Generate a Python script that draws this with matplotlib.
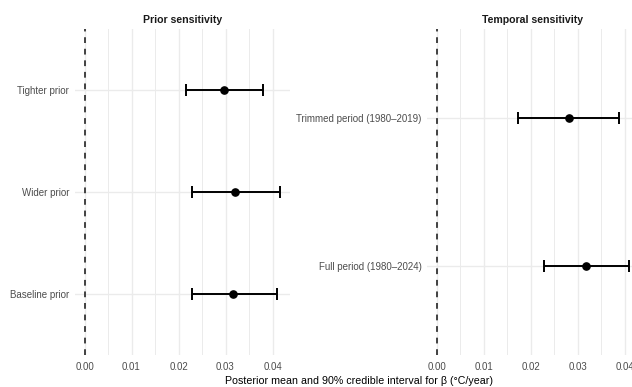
import matplotlib
matplotlib.use("Agg")
import matplotlib.pyplot as plt
from matplotlib.ticker import MultipleLocator

plt.rcParams['font.family'] = ['Liberation Sans', 'DejaVu Sans']

# prior sensitivity (bottom to top)
prior_labels = ["Baseline prior", "Wider prior", "Tighter prior"]
prior_mean = [0.0317, 0.0321, 0.0296]
prior_lo = [0.0229, 0.0229, 0.0216]
prior_hi = [0.0410, 0.0416, 0.0379]

# temporal sensitivity (bottom to top)
period_labels = ["Full period (1980\u20132024)", "Trimmed period (1980\u20132019)"]
period_mean = [0.0318, 0.0281]
period_lo = [0.0229, 0.0172]
period_hi = [0.0410, 0.0388]

W, H = 632, 387
fig = plt.figure(figsize=(W / 100, H / 100), dpi=100)

GRID = "#EBEBEB"
TXT = "#4D4D4D"
PX = 4700.0  # pixels per unit of beta


def panel(x0_px, labels, mean, lo, hi, title):
    hi_max = max(hi)
    xmin, xmax = -0.05 * hi_max, 1.05 * hi_max
    left = x0_px + xmin * PX
    width = (xmax - xmin) * PX
    top, bottom = 29, 355
    ax = fig.add_axes([left / W, 1 - bottom / H, width / W, (bottom - top) / H])
    n = len(labels)
    y = list(range(1, n + 1))
    ax.set_xlim(xmin, xmax)
    ax.set_ylim(0.4, n + 0.6)
    ax.xaxis.set_major_locator(MultipleLocator(0.01))
    ax.xaxis.set_minor_locator(MultipleLocator(0.005))
    ax.grid(True, which="major", color=GRID, lw=1.0)
    ax.grid(True, which="minor", axis="x", color=GRID, lw=0.7)
    ax.set_axisbelow(True)
    for s in ax.spines.values():
        s.set_visible(False)
    ax.tick_params(which="both", length=0, labelsize=7, labelcolor=TXT)
    ax.tick_params(axis="y", pad=4)
    ax.tick_params(axis="x", pad=5)
    ax.set_xticks([0, 0.01, 0.02, 0.03, 0.04])
    ax.set_xticklabels(["0.00", "0.01", "0.02", "0.03", "0.04"])
    ax.set_yticks(y)
    ax.set_yticklabels(labels)
    ax.axvline(0, color="#333333", lw=1.3, ls=(0, (3.2, 3.2)), zorder=2)
    ax.errorbar(mean, y,
                xerr=[[m - l for m, l in zip(mean, lo)], [h - m for m, h in zip(mean, hi)]],
                fmt="o", color="black", ms=5.2, elinewidth=1.4, capsize=4.6,
                capthick=1.4, zorder=3, clip_on=False)
    ax.set_title(title, fontsize=7.6, fontweight="bold", color="#1A1A1A", pad=4.5)
    return ax


panel(84.5, prior_labels, prior_mean, prior_lo, prior_hi, "Prior sensitivity")
panel(436.7, period_labels, period_mean, period_lo, period_hi, "Temporal sensitivity")

fig.text(359 / W, 1 - 381 / H,
         "Posterior mean and 90% credible interval for \u03b2 (\u00b0C/year)",
         ha="center", va="center", fontsize=7.7, color="black")

fig.savefig("out.png", dpi=100, facecolor="white")
